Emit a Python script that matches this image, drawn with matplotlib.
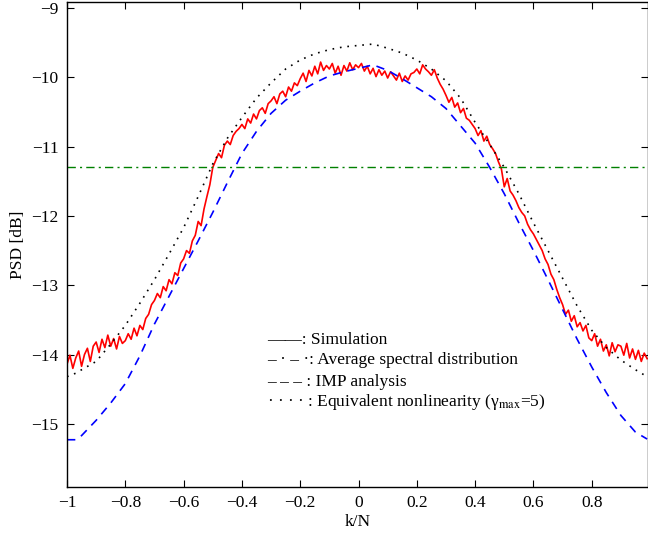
import numpy as np
import matplotlib
matplotlib.use("Agg")
import matplotlib.pyplot as plt

plt.rcParams['font.family'] = ['Liberation Serif', 'DejaVu Serif']
plt.rcParams['mathtext.fontset'] = 'stix'

# ---------------- data ----------------
x_sim = np.round(np.arange(-1.0, 0.995, 0.01), 2)
psd_sim = [
    -14.14, -14.01, -14.20, -14.05, -13.95, -14.17, -14.00, -13.91, -14.10, -13.88,
    -13.82, -13.97, -13.78, -13.90, -13.72, -13.88, -13.77, -13.92, -13.74, -13.84,
    -13.80, -13.70, -13.78, -13.62, -13.73, -13.58, -13.64, -13.48, -13.42, -13.28,
    -13.22, -13.12, -13.18, -13.02, -13.08, -12.92, -12.98, -12.82, -12.86, -12.68,
    -12.62, -12.50, -12.54, -12.36, -12.28, -12.08, -12.14, -11.90, -11.72, -11.55,
    -11.30, -11.20, -11.10, -11.16, -10.98, -10.92, -10.97, -10.84, -10.78, -10.74,
    -10.68, -10.74, -10.60, -10.66, -10.53, -10.60, -10.48, -10.44, -10.52, -10.38,
    -10.34, -10.28, -10.38, -10.24, -10.20, -10.28, -10.14, -10.20, -10.08, -10.12,
    -10.02, -9.94, -10.06, -9.90, -9.98, -9.84, -9.95, -9.78, -9.90, -9.83,
    -9.88, -9.80, -9.94, -9.84, -9.97, -9.83, -9.91, -9.79, -9.89, -9.82,
    -9.86, -9.80, -9.91, -9.84, -9.95, -9.87, -9.99, -9.89, -9.97, -9.91,
    -10.01, -9.92, -9.98, -10.04, -9.94, -10.06, -9.98, -10.04, -9.95, -9.93,
    -9.88, -9.95, -9.82, -9.88, -9.92, -9.97, -9.89, -10.01, -10.10, -10.17,
    -10.26, -10.36, -10.29, -10.43, -10.37, -10.51, -10.45, -10.59, -10.62, -10.68,
    -10.74, -10.84, -10.77, -10.92, -10.85, -10.97, -11.03, -11.10, -11.22, -11.32,
    -11.58, -11.46, -11.64, -11.70, -11.78, -11.88, -11.95, -12.00, -12.12, -12.20,
    -12.26, -12.34, -12.42, -12.50, -12.62, -12.70, -12.84, -12.92, -13.06, -13.18,
    -13.28, -13.42, -13.36, -13.52, -13.44, -13.60, -13.54, -13.66, -13.58, -13.76,
    -13.80, -13.70, -13.88, -13.78, -13.95, -13.86, -14.02, -13.83, -13.96, -13.86,
    -13.88, -14.01, -13.84, -14.05, -13.92, -14.07, -13.94, -14.10, -13.98, -14.06,
]

x_curve = [-1.0, -0.97, -0.95, -0.9, -0.85, -0.8, -0.75, -0.7, -0.65, -0.6, -0.55,
           -0.5, -0.45, -0.4, -0.35, -0.3, -0.25, -0.2, -0.15, -0.1, -0.05, 0.0,
           0.05, 0.1, 0.15, 0.2, 0.25, 0.3, 0.35, 0.4, 0.45, 0.5, 0.55, 0.6, 0.65,
           0.7, 0.75, 0.8, 0.85, 0.9, 0.95, 0.99]
psd_imp = [-15.23, -15.23, -15.17, -14.95, -14.70, -14.42, -14.02, -13.56, -13.16,
           -12.76, -12.36, -11.95, -11.52, -11.10, -10.78, -10.52, -10.33, -10.20,
           -10.08, -9.98, -9.92, -9.87, -9.82, -9.90, -10.02, -10.15, -10.28, -10.45,
           -10.70, -10.95, -11.30, -11.68, -12.10, -12.50, -12.92, -13.35, -13.78,
           -14.18, -14.55, -14.88, -15.12, -15.22]
psd_eq = [-14.32, -14.27, -14.22, -14.10, -13.85, -13.58, -13.26, -12.92, -12.55,
          -12.17, -11.72, -11.25, -10.88, -10.58, -10.30, -10.08, -9.88, -9.75,
          -9.66, -9.60, -9.56, -9.54, -9.52, -9.58, -9.65, -9.75, -9.88, -10.05,
          -10.30, -10.65, -10.97, -11.30, -11.68, -12.10, -12.50, -12.90, -13.30,
          -13.65, -13.90, -14.08, -14.22, -14.32]
avg_level = -11.3

xticks = [-1, -0.8, -0.6, -0.4, -0.2, 0, 0.2, 0.4, 0.6, 0.8]
xticklabels = ['\u22121', '\u22120.8', '\u22120.6', '\u22120.4', '\u22120.2', '0',
               '0.2', '0.4', '0.6', '0.8']
yticks = [-15, -14, -13, -12, -11, -10, -9]
yticklabels = ['\u221215', '\u221214', '\u221213', '\u221212', '\u221211', '\u221210', '\u22129']

legend_texts = ['\u2014\u2014: Simulation',
                '\u2013 \u00b7 \u2013 \u00b7: Average spectral distribution',
                '\u2013 \u2013 \u2013 : IMP analysis',
                '\u00b7 \u00b7 \u00b7 \u00b7 : Equivalent nonlinearity (\u03b3$_{\\rm max}$=5)']

# ---------------- figure ----------------
fig = plt.figure(figsize=(6.48, 5.38), dpi=100)
ax = fig.add_axes([67/648, 1 - 487/538, 581/648, 485/538])

ax.plot(x_sim, psd_sim, color='red', lw=1.2)
ax.axhline(avg_level, color=(0, 0.5, 0), lw=1.0, linestyle=(0, (6, 3, 1.5, 3)))
ax.plot(x_curve, psd_imp, color='blue', lw=1.2, linestyle=(0, (5, 4)))
ax.plot(x_curve, psd_eq, color='black', lw=1.2, linestyle=(0, (1, 3.5)))

ax.set_xlim(-1, 0.993)
ax.set_ylim(-15.912, -8.913)
ax.set_xticks(xticks)
ax.set_xticklabels(xticklabels)
ax.set_yticks(yticks)
ax.set_yticklabels(yticklabels)
ax.tick_params(direction='in', top=True, right=True, length=5, width=0.8,
               labelsize=12.5, pad=6)
for s in ax.spines.values():
    s.set_linewidth(1.0)

ax.set_xlabel('k/N', fontsize=12.5, labelpad=2)
ax.set_ylabel('PSD [dB]', fontsize=12.5, labelpad=4)

ys = [-13.79, -14.08, -14.40, -14.69]
for t, yv in zip(legend_texts, ys):
    ax.text(-0.315, yv, t, fontsize=12.5, va='center', ha='left')

fig.savefig('out.png', dpi=100)
